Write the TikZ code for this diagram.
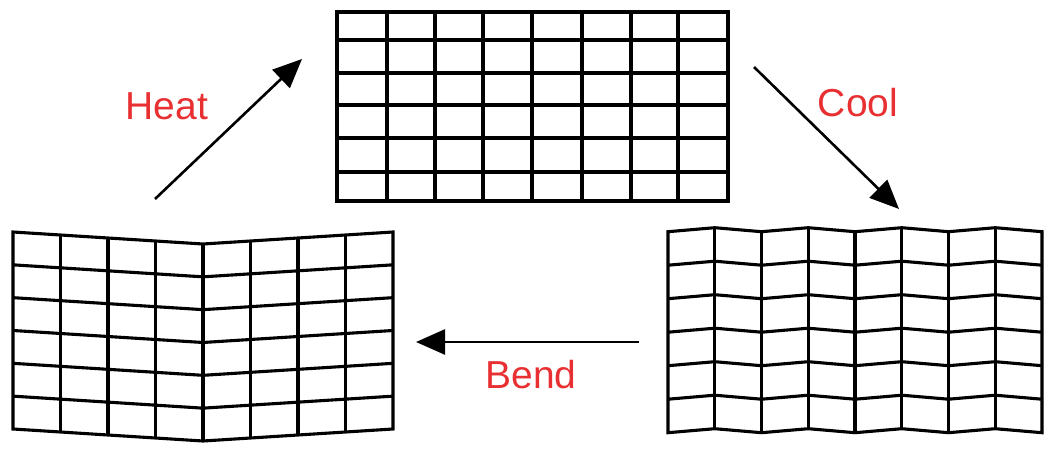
\documentclass[tikz,border=0pt]{standalone}
\usepackage{fontspec}
\setmainfont{Liberation Sans}
\usetikzlibrary{arrows.meta}
\definecolor{lbl}{RGB}{232,48,50}
\begin{document}
\begin{tikzpicture}[x=1pt,y=-1pt,
  gridline/.style={line width=3.1pt, line join=miter},
  flow/.style={line width=2.6pt, -{Triangle[length=29pt,width=25pt]}},
  lab/.style={text=lbl, font=\fontsize{39}{39}\selectfont, inner sep=0pt}]
\useasboundingbox (0,0) rectangle (1056,449);

% top grid (heated, straight)
\foreach \x in {387,435,483,532,582,631,678} \draw[gridline] (\x,12) -- (\x,201);
\foreach \y in {40,73,105,138,172} \draw[gridline] (337,\y) -- (728,\y);
\draw[gridline] (337,12) rectangle (728,201);

% left grid (bent)
\foreach \i in {1,...,7} {
  \pgfmathsetmacro\xx{13+47.5*\i}
  \pgfmathsetmacro\off{3*(4-abs(\i-4))}
  \draw[gridline] (\xx,232+\off) -- (\xx,429+\off);
}
\foreach \k in {1,...,5} {
  \pgfmathsetmacro\yy{232+32.83*\k}
  \draw[gridline] (13,\yy) -- (203,\yy+12) -- (393,\yy);
}
\draw[gridline] (13,232) -- (203,244) -- (393,232) -- (393,429) -- (203,441) -- (13,429) -- cycle;

% right grid (cooled, zigzag)
\foreach \i in {1,...,7} {
  \pgfmathsetmacro\xx{668+46.75*\i}
  \pgfmathsetmacro\off{-4*mod(\i,2)}
  \draw[gridline] (\xx,231.7+\off) -- (\xx,432.7+\off);
}
\foreach \k in {1,...,5} {
  \pgfmathsetmacro\yy{231.7+33.5*\k}
  \draw[gridline] (668,\yy) \foreach \i in {1,...,8} { -- ({668+46.75*\i},{\yy-4*mod(\i,2)}) };
}
\draw[gridline] (668,231.7) \foreach \i in {1,...,8} { -- ({668+46.75*\i},{231.7-4*mod(\i,2)}) }
  \foreach \i in {8,...,0} { -- ({668+46.75*\i},{432.7-4*mod(\i,2)}) } -- cycle;

% arrows
\coordinate (h1) at (155,199); \coordinate (h2) at (302,59);
\coordinate (c1) at (754,67);  \coordinate (c2) at (899,209);
\coordinate (b1) at (639,342); \coordinate (b2) at (416,342);
\draw[flow] (h1) -- (h2);
\draw[flow] (c1) -- (c2);
\draw[flow] (b1) -- (b2);

% labels
\node[lab] (heat) at (167,106) {Heat};
\node[lab] (cool) at (858,103) {Cool};
\node[lab] (bend) at (531,375) {Bend};
\end{tikzpicture}
\end{document}
